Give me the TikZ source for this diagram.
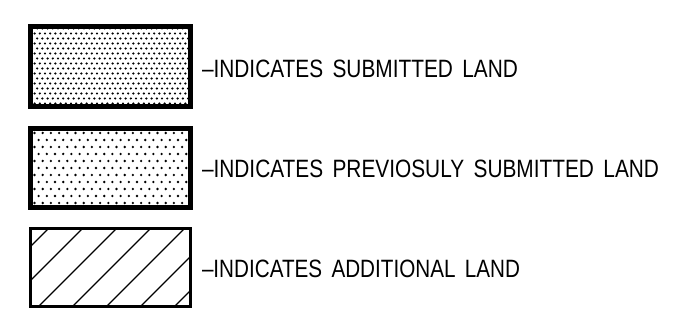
\documentclass[tikz,border=0pt]{standalone}
\usepackage{fontspec}
\setmainfont{Liberation Sans}
\usepackage{graphicx}
\tikzset{
  legbox/.style={draw=black, line width=5pt, inner sep=0pt, outer sep=0pt,
    minimum width=160pt, minimum height=80pt, fill=white},
  legtext/.style={anchor=base west, inner sep=0pt, outer sep=0pt, text=black},
  densedots/.style={path picture={
      \foreach \r in {0,...,16} {
        \foreach \c in {0,...,31} {
          \fill[black] ({-80+1.5+\c*5.2+mod(\r,2)*2.6}, {-40+2+\r*5}) circle (1.2pt);
        }
      }}},
  sparsedots/.style={path picture={
      \foreach \r in {0,...,11} {
        \foreach \c in {0,...,21} {
          \fill[black] ({-80+4+\c*8.2+mod(\r,2)*4.1}, {-39.5+4.5+\r*7}) circle (1.3pt);
        }
      }}},
  hatch/.style={path picture={
      \foreach \d in {18,52,86,120,154,188,222} {
        \draw[black, line width=1.3pt] ({-80+\d+60},{-39-60}) -- ({-80+\d-160},{-39+160});
      }}}
}
\newcommand{\legtxt}[2]{\resizebox{#1}{17.5pt}{\fontsize{24}{24}\selectfont #2}}
\begin{document}
\begin{tikzpicture}[x=1pt,y=-1pt]
  \useasboundingbox (0,0) rectangle (679,320);
  \node[legbox, densedots] (b1) at (110.5,66.5) {};
  \node[legbox, sparsedots, minimum height=79pt] (b2) at (110.5,168) {};
  \node[legbox, hatch, line width=3pt, minimum height=78pt] (b3) at (110.5,267.5) {};
  \node[legtext] (t1) at (202,78) {\legtxt{316pt}{–INDICATES\hspace{0.45em}SUBMITTED\hspace{0.45em}LAND}};
  \node[legtext] (t2) at (202,178) {\legtxt{457pt}{–INDICATES\hspace{0.45em}PREVIOSULY\hspace{0.45em}SUBMITTED\hspace{0.45em}LAND}};
  \node[legtext] (t3) at (202,277) {\legtxt{318pt}{–INDICATES\hspace{0.45em}ADDITIONAL\hspace{0.45em}LAND}};
\end{tikzpicture}
\end{document}
